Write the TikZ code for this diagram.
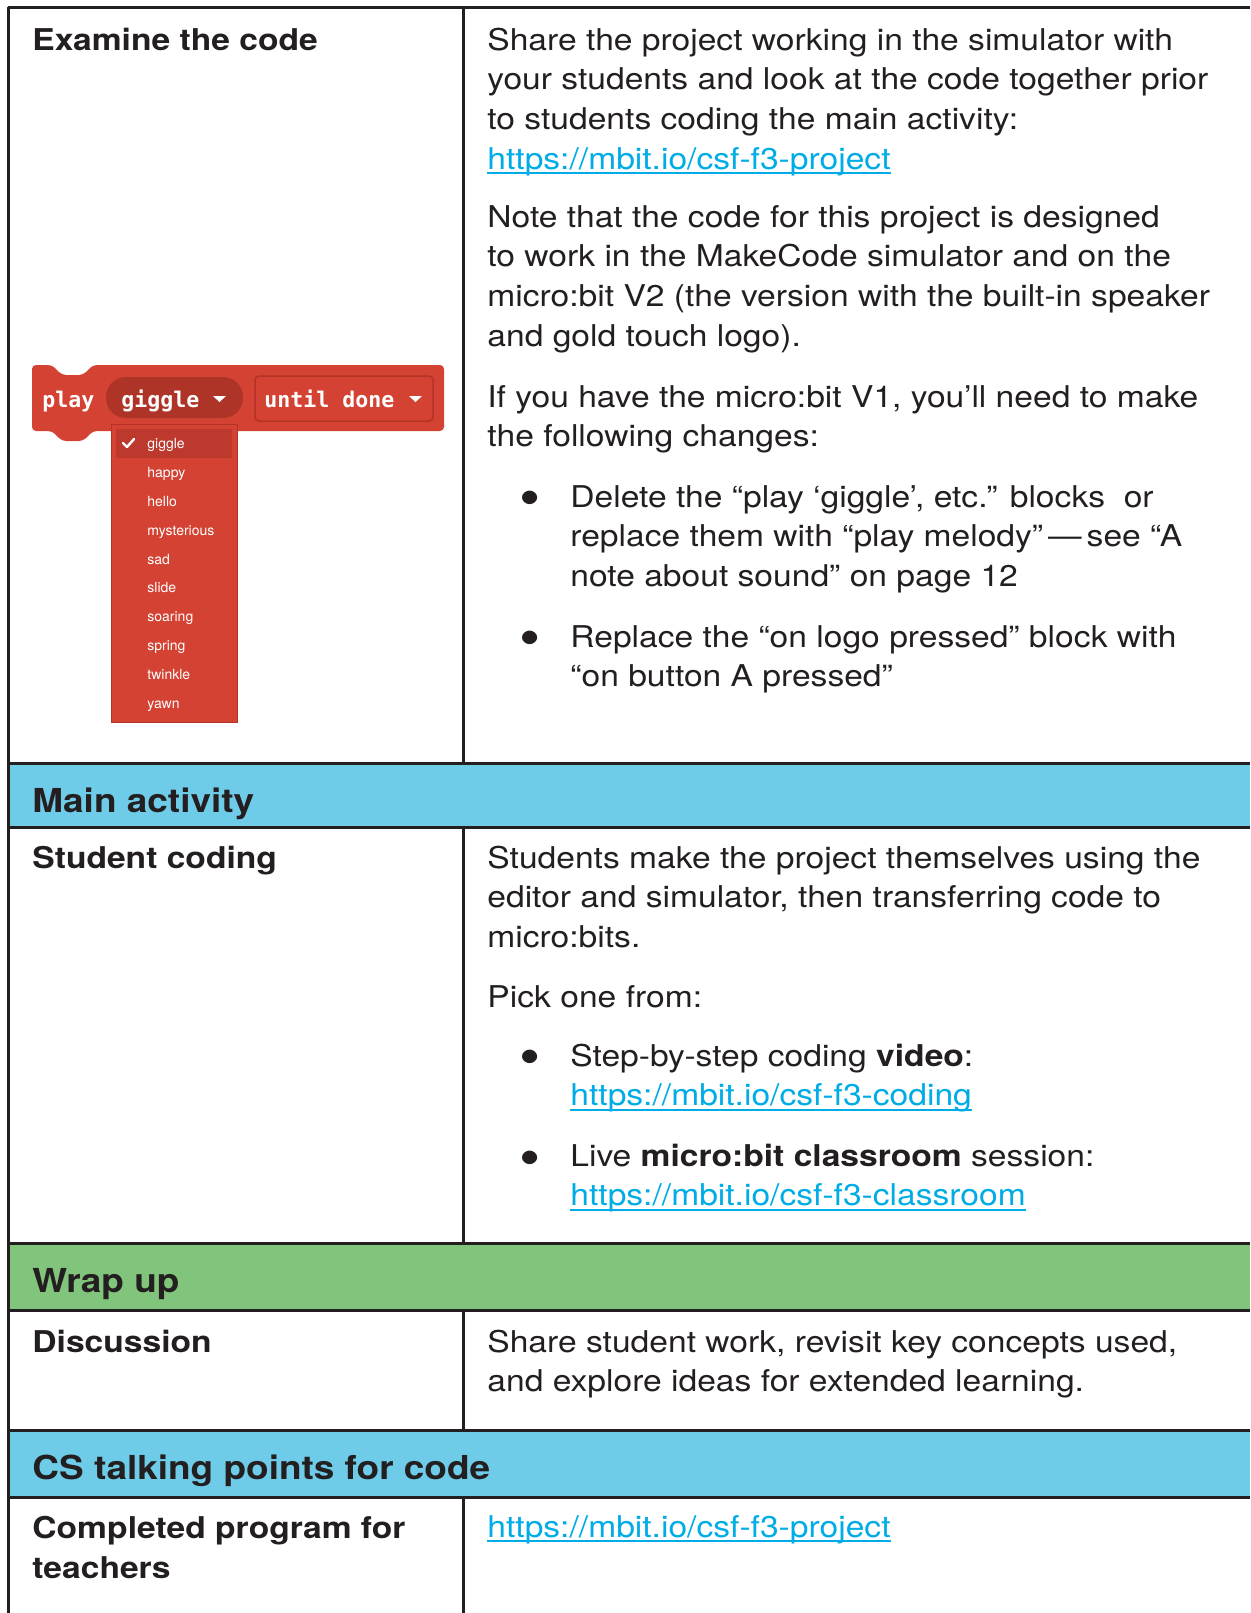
\documentclass[tikz,border=0pt]{standalone}
\usepackage{fontspec}
\usepackage{tikz}
\setmainfont{TeX Gyre Heros}[FakeStretch=1.12]
\newfontfamily\menufont{TeX Gyre Heros}
\newfontfamily\blockfont{DejaVu Sans Mono}

\definecolor{ink}{RGB}{35,31,32}
\definecolor{bandblue}{RGB}{110,204,232}
\definecolor{bandgreen}{RGB}{129,196,124}
\definecolor{linkblue}{RGB}{0,172,230}
\definecolor{blockred}{RGB}{211,66,50}
\definecolor{pillred}{RGB}{175,52,40}
\definecolor{rowred}{RGB}{190,57,45}
\definecolor{edgered}{RGB}{180,50,38}

\newcommand\lnk[1]{\leavevmode{\color{linkblue}\setbox0\hbox{#1}\rlap{\rule[-2.4pt]{\wd0}{0.9pt}}\box0}}
\newcommand\paralines[1]{\parbox[t]{16cm}{\raggedright #1}}

\tikzset{
  rule/.style={ink, line width=1.5pt},
  body/.style={anchor=base west, inner sep=0pt, text=ink, font={\fontsize{15}{19.9}\selectfont}},
  rowhead/.style={body, font={\fontsize{15}{20}\selectfont\bfseries}},
  bandhead/.style={body, font={\fontsize{16.5}{20}\selectfont\bfseries}},
  bul/.style={anchor=center, inner sep=0pt, text=ink, font={\fontsize{27}{27}\selectfont}},
  menuitem/.style={anchor=base west, inner sep=0pt, text=white, font={\menufont\fontsize{7}{8}\selectfont}},
  mono/.style={anchor=base west, inner sep=0pt, text=white, font={\blockfont\bfseries\fontsize{10.8}{12}\selectfont}},
}

\begin{document}
\begin{tikzpicture}[x=0.5pt,y=-0.5pt]
      \useasboundingbox (0,0) rectangle (1250,1613);

      \fill[bandblue] (8.5,763) rectangle (1250,827);
      \fill[bandgreen] (8.5,1243.5) rectangle (1250,1310.5);
      \fill[bandblue] (8.5,1430) rectangle (1250,1497);

      \draw[rule] (7.75,7.5) -- (1250,7.5);
      \draw[rule] (7.75,763) -- (1250,763);
      \draw[rule] (7.75,827) -- (1250,827);
      \draw[rule] (7.75,1243.5) -- (1250,1243.5);
      \draw[rule] (7.75,1310.5) -- (1250,1310.5);
      \draw[rule] (7.75,1430) -- (1250,1430);
      \draw[rule] (7.75,1497) -- (1250,1497);
      \draw[rule] (8.5,6.75) -- (8.5,1613);
      \draw[rule] (463,7.5) -- (463,763);
      \draw[rule] (463,827) -- (463,1243.5);
      \draw[rule] (463,1310.5) -- (463,1430);
      \draw[rule] (463,1497) -- (463,1613);

      \node[rowhead] (examine) at (32,50) {Examine the code};
      \node[bandhead] (main) at (32,812) {Main activity};
      \node[rowhead] (coding) at (32,868) {Student coding};
      \node[bandhead] (wrap) at (32,1292) {Wrap up};
      \node[rowhead] (discuss) at (32,1352) {Discussion};
      \node[bandhead] (talking) at (32,1479) {CS talking points for code};
      \node[rowhead] (completed) at (32,1538) {\parbox[t]{8cm}{Completed program for\\teachers}};

      \fill[blockred, rounded corners=2pt] (32,365) -- (52,365) -- (62,375) -- (83,375) -- (93,365)
        -- (444,365) -- (444,431) -- (93,431) -- (83,441) -- (62,441) -- (52,431) -- (32,431) -- cycle;
      \fill[pillred, rounded corners=10pt] (106,377) rectangle (243,418);
      \draw[edgered, fill=blockred, line width=0.75pt, rounded corners=2pt] (255,376) rectangle (433,421);
      \fill[white] (213,396) -- (226,396) -- (219.5,402) -- cycle;
      \fill[white] (409,396) -- (422,396) -- (415.5,402) -- cycle;
      \node[mono] (play) at (42,407) {play};
      \node[mono] (giggle) at (121,407) {giggle};
      \node[mono] (until) at (264,407) {until done};

      \draw[edgered, fill=blockred, line width=0.4pt] (111,424) rectangle (237,722);
      \fill[rowred] (116,429) rectangle (232,458);
      \draw[white, line width=1.2pt, line cap=round, line join=round] (123,443) -- (127,447) -- (134,439);
      \node[menuitem] (m1) at (147,448) {giggle};
      \node[menuitem] (m2) at (147,477) {happy};
      \node[menuitem] (m3) at (147,506) {hello};
      \node[menuitem] (m4) at (147,535) {mysterious};
      \node[menuitem] (m5) at (147,564) {sad};
      \node[menuitem] (m6) at (147,592) {slide};
      \node[menuitem] (m7) at (147,621) {soaring};
      \node[menuitem] (m8) at (147,650) {spring};
      \node[menuitem] (m9) at (147,679) {twinkle};
      \node[menuitem] (m10) at (147,708) {yawn};

      \node[body] (share) at (487,50) {\paralines{Share the project working in the simulator with\\your students and look at the code together prior\\to students coding the main activity:\\\lnk{https://mbit.io/csf-f3-project}}};
      \node[body] (note) at (487,227) {\paralines{Note that the code for this project is designed\\to work in the MakeCode simulator and on the\\micro:bit V2 (the version with the built-in speaker\\and gold touch logo).}};
      \node[body] (ifv1) at (487,407) {\paralines{If you have the micro:bit V1, you’ll need to make\\the following changes:}};
      \node[bul] (b1) at (530,504) {\textbullet};
      \node[body] (delete) at (570,507) {\paralines{Delete the “play ‘giggle’, etc.” blocks~ or\\replace them with “play melody”\,—\,see “A\\note about sound” on page 12}};
      \node[bul] (b2) at (530,644) {\textbullet};
      \node[body] (replace) at (570,647) {\paralines{Replace the “on logo pressed” block with\\“on button A pressed”}};

      \node[body] (students) at (487,868) {\paralines{Students make the project themselves using the\\editor and simulator, then transferring code to\\micro:bits.}};
      \node[body] (pick) at (487,1007) {Pick one from:};
      \node[bul] (b3) at (530,1063) {\textbullet};
      \node[body] (video) at (570,1066) {\paralines{Step-by-step coding \textbf{video}:\\\lnk{https://mbit.io/csf-f3-coding}}};
      \node[bul] (b4) at (530,1164) {\textbullet};
      \node[body] (live) at (570,1166) {\paralines{Live \textbf{micro:bit classroom} session:\\\lnk{https://mbit.io/csf-f3-classroom}}};

      \node[body] (sharework) at (487,1352) {\paralines{Share student work, revisit key concepts used,\\and explore ideas for extended learning.}};
      \node[body] (project) at (487,1537) {\lnk{https://mbit.io/csf-f3-project}};
\end{tikzpicture}
\end{document}
